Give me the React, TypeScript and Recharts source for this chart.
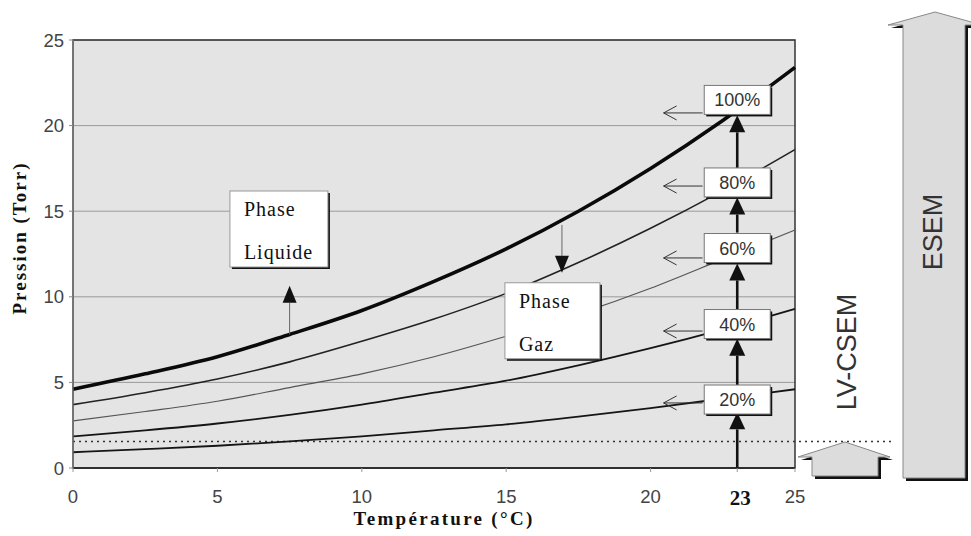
import React from 'react';
import {
  LineChart,
  Line,
  XAxis,
  YAxis,
  CartesianGrid,
  ReferenceLine,
  ReferenceDot,
  ReferenceArea,
} from 'recharts';

// temperature (°C) and pressure (Torr), per humidity level
const temps = [0, 2.5, 5, 7.5, 10, 12.5, 15, 17.5, 20, 22.5, 25];
const hr100 = [4.6, 5.5, 6.5, 7.8, 9.2, 10.9, 12.8, 15.0, 17.5, 20.3, 23.4];
const hr80 = [3.7, 4.4, 5.2, 6.2, 7.4, 8.7, 10.2, 12.0, 14.0, 16.2, 18.6];
const hr60 = [2.75, 3.3, 3.9, 4.7, 5.5, 6.5, 7.7, 9.0, 10.5, 12.2, 13.9];
const hr40 = [1.85, 2.2, 2.6, 3.1, 3.7, 4.4, 5.1, 6.0, 7.0, 8.1, 9.3];
const hr20 = [0.92, 1.1, 1.3, 1.55, 1.85, 2.2, 2.55, 3.0, 3.5, 4.05, 4.6];

const xTicks = [0, 5, 10, 15, 20, 23, 25];
const yTicks = [0, 5, 10, 15, 20, 25];

const humidityLabels = ['100%', '80%', '60%', '40%', '20%'];
const boxY = [21.5, 16.68, 12.85, 8.41, 4.0];
const leftArrowY = [20.74, 16.47, 12.27, 8.0, 3.8];
const upArrows = [
  [0, 3.25],
  [4.85, 7.55],
  [9.25, 11.95],
  [13.75, 15.8],
  [17.5, 20.6],
];
const lvCsemLimit = 1.55;
const markTemp = 23;

const data = temps.map((t, i) => ({
  t,
  p100: hr100[i],
  p80: hr80[i],
  p60: hr60[i],
  p40: hr40[i],
  p20: hr20[i],
}));

const sans = '"Liberation Sans", Arial, sans-serif';
const serif = '"Liberation Serif", "Times New Roman", serif';

const arrowShape = (opts: { filled: boolean; width: number; color: string; head: number; half: number }) =>
  (props: any) => {
    const { x1, y1, x2, y2 } = props;
    const dx = x2 - x1;
    const dy = y2 - y1;
    const len = Math.sqrt(dx * dx + dy * dy) || 1;
    const ux = dx / len;
    const uy = dy / len;
    const bx = x2 - ux * opts.head;
    const by = y2 - uy * opts.head;
    const p1 = `${bx - uy * opts.half},${by + ux * opts.half}`;
    const p2 = `${bx + uy * opts.half},${by - ux * opts.half}`;
    return (
      <g>
        <line
          x1={x1}
          y1={y1}
          x2={opts.filled ? bx : x2}
          y2={opts.filled ? by : y2}
          stroke={opts.color}
          strokeWidth={opts.width}
        />
        {opts.filled ? (
          <polygon points={`${x2},${y2} ${p1} ${p2}`} fill="#111" />
        ) : (
          <polyline points={`${p1} ${x2},${y2} ${p2}`} fill="none" stroke={opts.color} strokeWidth={1} />
        )}
      </g>
    );
  };

const upArrow = arrowShape({ filled: true, width: 2.6, color: '#111', head: 17, half: 8 });
const thinArrow = arrowShape({ filled: true, width: 1, color: '#666', head: 17, half: 7 });
const openArrow = arrowShape({ filled: false, width: 1, color: '#333', head: 13, half: 7 });

const pctBox = (label: string) => (props: any) => {
  const { cx, cy } = props;
  const w = 66;
  const h = 29;
  return (
    <g>
      <rect x={cx - w / 2 + 2} y={cy - h / 2 + 2} width={w} height={h} fill="#111" />
      <rect x={cx - w / 2} y={cy - h / 2} width={w} height={h} fill="#fff" stroke="#777" strokeWidth={1} />
      <text x={cx} y={cy + 6.5} textAnchor="middle" fontFamily={sans} fontSize={18} fill="#333">
        {label}
      </text>
    </g>
  );
};

const phaseBox = (line1: string, line2: string, w: number, h: number) => (props: any) => {
  const { cx, cy } = props;
  return (
    <g>
      <rect x={cx - w / 2 + 2} y={cy - h / 2 + 2} width={w} height={h} fill="#111" />
      <rect x={cx - w / 2} y={cy - h / 2} width={w} height={h} fill="#fff" stroke="#999" strokeWidth={1} />
      <text x={cx - w / 2 + 14} y={cy - h / 2 + 25} fontFamily={serif} fontSize={20} letterSpacing={1} fill="#111">
        {line1}
      </text>
      <text x={cx - w / 2 + 14} y={cy - h / 2 + 68} fontFamily={serif} fontSize={20} letterSpacing={1} fill="#111">
        {line2}
      </text>
    </g>
  );
};

const dottedShape = (props: any) => {
  const { x1, y1, x2, y2 } = props;
  return (
    <line x1={x1} y1={y1} x2={x2 + 98} y2={y2} stroke="#333" strokeWidth={1.5} strokeDasharray="2 4" />
  );
};

const XTick = (props: any) => {
  const { x, y, payload } = props;
  const bold = payload.value === markTemp;
  return (
    <text
      x={x + (bold ? 3 : 0)}
      y={y + 1}
      dy="0.71em"
      textAnchor="middle"
      fontFamily={bold ? serif : sans}
      fontWeight={bold ? 'bold' : 'normal'}
      fontSize={bold ? 21 : 18.5}
      fill={bold ? '#111' : '#444'}
    >
      {payload.value}
    </text>
  );
};

export default function App() {
  return (
    <div style={{ position: 'absolute', left: 0, top: 0, width: 971, height: 536, background: '#fff' }}>
      <LineChart width={971} height={536} data={data} margin={{ top: 40, right: 176, bottom: 0, left: 0 }}>
        <CartesianGrid vertical={false} stroke="#9a9a9a" fill="#e4e4e4" fillOpacity={1} />
        <XAxis
          type="number"
          dataKey="t"
          domain={[0, 25]}
          ticks={xTicks}
          height={68}
          tickSize={4}
          tickMargin={17}
          axisLine={{ stroke: '#222', strokeWidth: 1.5 }}
          tickLine={{ stroke: '#999' }}
          tick={<XTick />}
          label={{
            content: () => (
              <text x={444} y={525} textAnchor="middle" fontFamily={serif} fontWeight="bold" fontSize={19} letterSpacing={2.3} fill="#111">
                Température (°C)
              </text>
            ),
          }}
        />
        <YAxis
          type="number"
          domain={[0, 25]}
          ticks={yTicks}
          width={73}
          tickSize={4}
          tickMargin={5}
          axisLine={{ stroke: '#888' }}
          tickLine={{ stroke: '#888' }}
          tick={{ fontFamily: sans, fontSize: 18.5, fill: '#444' }}
          label={{
            content: () => (
              <text
                x={0}
                y={0}
                transform="translate(26,238) rotate(-90)"
                textAnchor="middle"
                fontFamily={serif}
                fontWeight="bold"
                fontSize={19}
                letterSpacing={2}
                fill="#111"
              >
                Pression (Torr)
              </text>
            ),
          }}
        />
        <ReferenceArea x1={0} x2={25} y1={0} y2={25} fill="none" stroke="#333" strokeWidth={1.5} />
        <ReferenceLine y={lvCsemLimit} shape={dottedShape} />

        <Line type="monotone" dataKey="p20" stroke="#151515" strokeWidth={1.8} dot={false} isAnimationActive={false} />
        <Line type="monotone" dataKey="p40" stroke="#151515" strokeWidth={1.8} dot={false} isAnimationActive={false} />
        <Line type="monotone" dataKey="p60" stroke="#555" strokeWidth={1.2} dot={false} isAnimationActive={false} />
        <Line type="monotone" dataKey="p80" stroke="#222" strokeWidth={1.6} dot={false} isAnimationActive={false} />
        <Line type="monotone" dataKey="p100" stroke="#0a0a0a" strokeWidth={3.6} dot={false} isAnimationActive={false} />

        {upArrows.map(([a, b], i) => (
          <ReferenceLine
            key={`up-${i}`}
            segment={[{ x: markTemp, y: a }, { x: markTemp, y: b }]}
            shape={upArrow}
          />
        ))}
        {leftArrowY.map((y, i) => (
          <ReferenceLine
            key={`left-${i}`}
            segment={[{ x: 21.8, y }, { x: 20.45, y }]}
            shape={openArrow}
          />
        ))}
        {humidityLabels.map((lab, i) => (
          <ReferenceDot key={lab} x={markTemp} y={boxY[i]} r={1} shape={pctBox(lab)} />
        ))}

        <ReferenceLine segment={[{ x: 7.5, y: 7.8 }, { x: 7.5, y: 10.65 }]} shape={thinArrow} />
        <ReferenceLine segment={[{ x: 16.93, y: 14.2 }, { x: 16.93, y: 11.4 }]} shape={thinArrow} />
        <ReferenceDot x={7.13} y={13.96} r={1} shape={phaseBox('Phase', 'Liquide', 98, 76)} />
        <ReferenceDot x={16.6} y={8.6} r={1} shape={phaseBox('Phase', 'Gaz', 95, 76)} />
      </LineChart>

      <svg width={971} height={536} style={{ position: 'absolute', left: 0, top: 0, pointerEvents: 'none' }}>
        {/* LV-CSEM block arrow */}
        <polygon points="848,445 893,460 881,460 881,479 815,479 815,460 801,460" fill="#111" />
        <polygon points="845,442 890,457 878,457 878,476 812,476 812,457 798,457" fill="#dcdcdc" stroke="#888" strokeWidth={1} />
        {/* ESEM block arrow */}
        <polygon points="938,15 985,28 968,28 968,481 906,481 906,28 891,28" fill="#111" />
        <polygon points="935,12 982,25 965,25 965,478 903,478 903,25 888,25" fill="#dcdcdc" stroke="#888" strokeWidth={1} />
        <text transform="translate(856,352) rotate(-90)" textAnchor="middle" fontFamily={sans} fontSize={27} fill="#333">
          LV-CSEM
        </text>
        <text transform="translate(942,232) rotate(-90)" textAnchor="middle" fontFamily={sans} fontSize={27} fill="#333">
          ESEM
        </text>
      </svg>
    </div>
  );
}
